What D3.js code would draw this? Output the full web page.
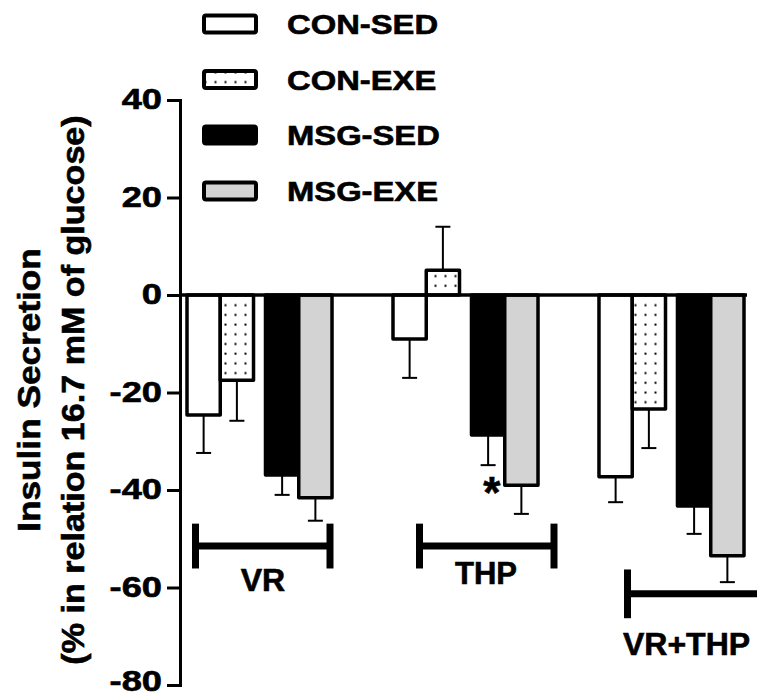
<!DOCTYPE html>
<html>
<head>
<meta charset="utf-8">
<script src="https://cdn.jsdelivr.net/npm/d3@7"></script>
<style>
  html, body { margin: 0; padding: 0; background: #fff; }
  svg { display: block; }
  text { font-family: "Liberation Sans", Arial, sans-serif; font-weight: bold; fill: #000; stroke: #000; stroke-width: 0.6px; }
</style>
</head>
<body>
<svg id="chart" width="757" height="698"></svg>
<script>
// ---------- data ----------
const groups = ["VR", "THP", "VR+THP"];
const seriesNames = ["CON-SED", "CON-EXE", "MSG-SED", "MSG-EXE"];
const conSed    = [-24.6, -9.0, -37.3];
const conSedErr = [7.8, 8.0, 5.2];
const conExe    = [-17.5, 5.1, -23.4];
const conExeErr = [8.3, 8.9, 8.0];
const msgSed    = [-36.9, -28.7, -43.3];
const msgSedErr = [4.1, 6.2, 5.7];
const msgExe    = [-41.6, -39.0, -53.5];
const msgExeErr = [4.7, 5.9, 5.4];
const yTicks = [40, 20, 0, -20, -40, -60, -80];
const yTitle1 = "Insulin Secretion";
const yTitle2 = "(% in relation 16.7 mM of glucose)";
const starMarks = [{ group: "THP", series: "MSG-EXE", text: "*" }];

// ---------- build ----------
const values = [conSed, conExe, msgSed, msgExe];
const errors = [conSedErr, conExeErr, msgSedErr, msgExeErr];
const bars = [];
groups.forEach((g, gi) => {
  seriesNames.forEach((s, si) => {
    bars.push({ group: g, series: s, si, value: values[si][gi], err: errors[si][gi] });
  });
});

const svg = d3.select("#chart");

const y = d3.scaleLinear().domain([-80, 40]).range([685, 100]);
const x = d3.scaleBand().domain(groups).range([187, 744]).paddingInner(0.296).paddingOuter(0);
const slotStart = [0, 1, 2.36, 3.36];
const sub = d3.scaleLinear().domain([0, 4.36]).range([0, x.bandwidth()]);
const barW = sub(1) - sub(0);
const barX = d => x(d.group) + sub(slotStart[d.si]);

// pattern for dotted bars
const defs = svg.append("defs");
const pat = defs.append("pattern").attr("id", "dots")
  .attr("patternUnits", "userSpaceOnUse").attr("width", 10).attr("height", 9.7)
  .attr("x", 1).attr("y", 0);
pat.append("rect").attr("width", 10).attr("height", 9.7).attr("fill", "#fff");
pat.append("rect").attr("x", 3.5).attr("y", 3.5).attr("width", 2).attr("height", 2).attr("fill", "#000");

const fills = ["#ffffff", "url(#dots)", "#000000", "#d3d3d3"];

// error bars
const eb = svg.append("g").attr("stroke", "#000").attr("stroke-width", 2).attr("fill", "none");
bars.forEach(d => {
  const cx = barX(d) + barW / 2;
  const end = d.value < 0 ? d.value - d.err : d.value + d.err;
  eb.append("line").attr("x1", cx).attr("x2", cx).attr("y1", y(d.value)).attr("y2", y(end));
  eb.append("line").attr("x1", cx - 7.5).attr("x2", cx + 7.5).attr("y1", y(end)).attr("y2", y(end));
});

// bars
svg.append("g").selectAll("rect").data(bars).join("rect")
  .attr("x", d => barX(d))
  .attr("width", barW)
  .attr("y", d => y(Math.max(0, d.value)))
  .attr("height", d => Math.abs(y(d.value) - y(0)))
  .attr("fill", d => fills[d.si])
  .attr("stroke", "#000")
  .attr("stroke-width", 3.5)
  .attr("stroke-linejoin", "round");

// zero line (x axis)
svg.append("line")
  .attr("x1", 180).attr("x2", x.range()[1] + 3)
  .attr("y1", y(0)).attr("y2", y(0))
  .attr("stroke", "#000").attr("stroke-width", 3.5);

// y axis
const sx = 1.25;
const yAxis = svg.append("g").attr("transform", "translate(180,0)")
  .call(d3.axisLeft(y).tickValues(yTicks).tickSize(13).tickSizeOuter(13).tickFormat(d3.format("d")));
yAxis.select(".domain").attr("stroke-width", 3);
yAxis.selectAll(".tick line").attr("stroke-width", 3);
yAxis.selectAll(".tick text")
  .attr("font-size", 29).attr("font-family", null)
  .attr("x", -18 / sx)
  .attr("dy", d => d === -80 ? "0.2em" : "0.3em")
  .attr("transform", `scale(${sx},1)`)
  .text(d => d < 0 ? "-" + Math.abs(d) : d);

// y title
const titleSx = 1.1;
svg.append("text")
  .attr("transform", `translate(40,390) rotate(-90) scale(${titleSx},1)`)
  .attr("text-anchor", "middle").attr("font-size", 32).text(yTitle1);
svg.append("text")
  .attr("transform", `translate(84,390) rotate(-90) scale(${titleSx},1)`)
  .attr("text-anchor", "middle").attr("font-size", 31).text(yTitle2);

// significance star
starMarks.forEach(m => {
  const d = bars.find(b => b.group === m.group && b.series === m.series);
  svg.append("text")
    .attr("x", barX(d) - 13).attr("y", y(d.value) + 23)
    .attr("text-anchor", "middle").attr("font-size", 44).text(m.text);
});

// group brackets
const brackets = [
  { label: "VR",     x1: x("VR") + 8.5,      x2: x("VR") + 143,    yv: -51.5, half: 4.6, lx: x("VR") + 76,     ly: -60.7, anchor: "middle", fs: 32 },
  { label: "THP",    x1: x("THP") + 26.5,    x2: x("THP") + 161,   yv: -51.5, half: 4.6, lx: x("THP") + 93,    ly: -59.3, anchor: "middle", fs: 31 },
  { label: "VR+THP", x1: x("VR+THP") + 28.5, x2: 757,              yv: -61.3, half: 5.0, lx: x("VR+THP") + 24, ly: -73.8, anchor: "start",  fs: 32 }
];
const bg = svg.append("g");
brackets.forEach(b => {
  bg.append("line").attr("x1", b.x1).attr("x2", b.x2).attr("y1", y(b.yv)).attr("y2", y(b.yv))
    .attr("stroke", "#000").attr("stroke-width", 7);
  [b.x1, b.x2].forEach(xx => {
    if (xx >= 757) return;
    bg.append("line").attr("x1", xx).attr("x2", xx)
      .attr("y1", y(b.yv + b.half)).attr("y2", y(b.yv - b.half))
      .attr("stroke", "#000").attr("stroke-width", 7);
  });
  bg.append("text").attr("x", b.lx).attr("y", y(b.ly))
    .attr("text-anchor", b.anchor).attr("font-size", b.fs).text(b.label);
});

// legend
const legendY = [24, 79.5, 135, 191];
const lg = svg.append("g");
seriesNames.forEach((s, i) => {
  lg.append("rect").attr("x", 204).attr("y", legendY[i] - 8.5).attr("width", 52).attr("height", 17)
    .attr("rx", 2).attr("fill", fills[i]).attr("stroke", "#000").attr("stroke-width", 4);
  lg.append("text")
    .attr("transform", `translate(287,${legendY[i] + 10}) scale(1.17,1)`)
    .attr("font-size", 28).text(s);
});
</script>
</body>
</html>
